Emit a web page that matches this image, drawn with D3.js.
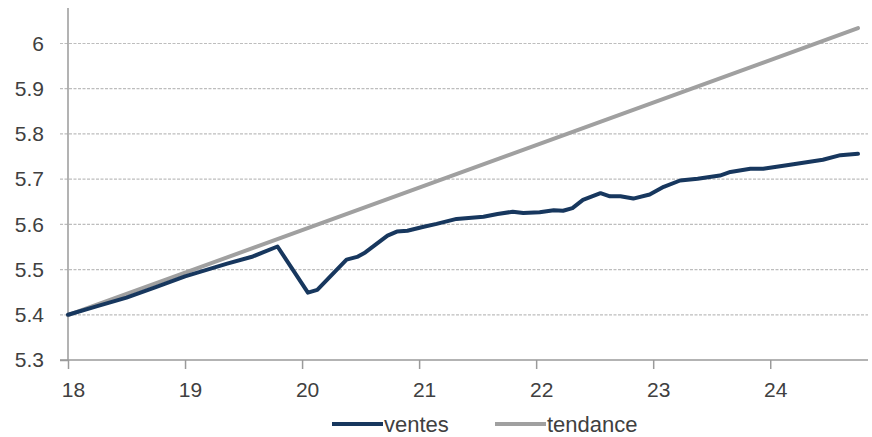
<!DOCTYPE html>
<html><head><meta charset="utf-8">
<script src="https://cdn.jsdelivr.net/npm/d3@7"></script>
<style>body{margin:0;background:#fff}svg{display:block}text{font-family:"Liberation Sans",Arial,sans-serif;fill:#404040}</style>
</head><body><svg id="c" width="872" height="437"></svg>
<script>
const xTicks = [18, 19, 20, 21, 22, 23, 24];
const yTicks = [5.3, 5.4, 5.5, 5.6, 5.7, 5.8, 5.9, 6.0];
const seriesNames = ["ventes", "tendance"];
const ventesX = [18.00,18.25,18.50,18.75,19.00,19.36,19.58,19.79,20.05,20.13,20.38,20.47,20.54,20.73,20.81,20.90,21.03,21.15,21.32,21.55,21.67,21.80,21.89,22.03,22.15,22.23,22.31,22.40,22.55,22.63,22.72,22.83,22.97,23.09,23.23,23.38,23.57,23.66,23.83,23.94,24.17,24.45,24.60,24.75];
const ventesY = [5.400,5.419,5.438,5.461,5.485,5.513,5.529,5.551,5.449,5.455,5.522,5.528,5.538,5.575,5.584,5.586,5.594,5.601,5.612,5.617,5.623,5.628,5.625,5.627,5.631,5.630,5.636,5.654,5.669,5.662,5.662,5.657,5.666,5.683,5.697,5.701,5.708,5.716,5.723,5.723,5.732,5.743,5.753,5.756];
const tendanceX = [18.00, 24.75];
const tendanceY = [5.399, 6.034];

const svg = d3.select("#c");
const x = d3.scaleLinear().domain([18, 24.75]).range([68, 858]);
const y = d3.scaleLinear().domain([5.3, 6.0]).range([360, 43.5]);

// gridlines
svg.append("g").selectAll("line").data(yTicks.filter(v => v > 5.3)).join("line")
  .attr("x1", 60).attr("x2", 868).attr("y1", d => y(d)).attr("y2", d => y(d))
  .attr("stroke", "#bdbdbd").attr("stroke-width", 1.2).attr("stroke-dasharray", "3,1.5");

// y axis
const yAxis = svg.append("g").attr("transform", "translate(68,0)")
  .call(d3.axisLeft(y).tickValues(yTicks).tickSize(8).tickFormat(d => d3.format("~g")(d)).tickPadding(16));
yAxis.select(".domain").attr("d", "M0,8V360").attr("stroke", "#9a9a9a").attr("stroke-width", 1.5);
yAxis.selectAll(".tick line").attr("stroke", d => d === 5.3 ? "#9a9a9a" : "none").attr("stroke-width", 1.5);
yAxis.selectAll("text").attr("font-size", 21).attr("fill", "#404040").attr("font-family", "Liberation Sans, Arial, sans-serif");

// x axis
const xAxis = svg.append("g").attr("transform", "translate(0,360)")
  .call(d3.axisBottom(x).tickValues(xTicks).tickSize(9).tickFormat(d3.format("d")).tickPadding(13));
xAxis.select(".domain").attr("d", "M60,0H868").attr("stroke", "#9a9a9a").attr("stroke-width", 1.5);
xAxis.selectAll(".tick line").attr("stroke", "#9a9a9a").attr("stroke-width", 1.5);
xAxis.selectAll("text").attr("font-size", 21).attr("fill", "#404040").attr("dx", 5).attr("font-family", "Liberation Sans, Arial, sans-serif");

const line = d3.line().x(d => x(d[0])).y(d => y(d[1]));
const tend = tendanceX.map((v, i) => [v, tendanceY[i]]);
const vent = ventesX.map((v, i) => [v, ventesY[i]]);
svg.append("path").datum(tend).attr("d", line).attr("fill", "none").attr("stroke", "#a0a0a0").attr("stroke-width", 4).attr("stroke-linecap", "round");
svg.append("path").datum(vent).attr("d", line).attr("fill", "none").attr("stroke", "#17375e").attr("stroke-width", 4).attr("stroke-linejoin", "round").attr("stroke-linecap", "round");

// legend
const legend = [{name: seriesNames[0], color: "#17375e", x: 332}, {name: seriesNames[1], color: "#a0a0a0", x: 495}];
const lg = svg.append("g").selectAll("g").data(legend).join("g").attr("transform", d => `translate(${d.x},424)`);
lg.append("line").attr("x1", 0).attr("x2", 51).attr("stroke", d => d.color).attr("stroke-width", 4);
lg.append("text").attr("x", 52).attr("y", 8).attr("font-size", 22).text(d => d.name);
</script></body></html>
